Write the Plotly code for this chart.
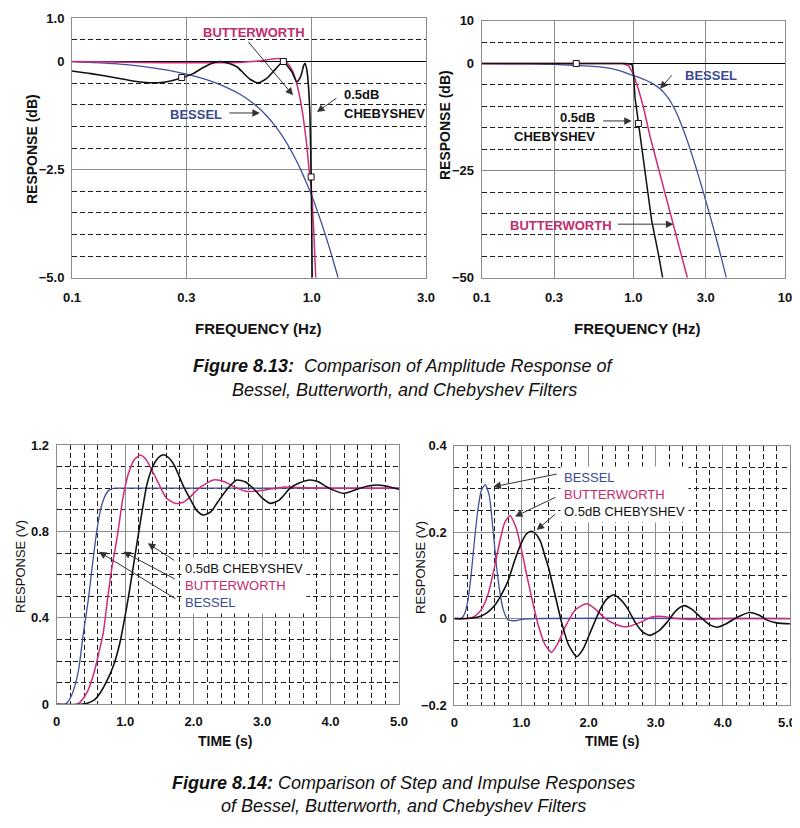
import math
import plotly.graph_objects as go

# The page body has an 8px margin, so the figure is placed and sized to fit inside the window.
OX, OY = 8, 8
W, H = 792, 810
FONT = "Liberation Sans, Arial, sans-serif"
BLUE = "#3f4f9e"
MAGENTA = "#d02a7c"
BLACK = "#111111"
BLUE_TXT = "#3a4a94"
MAG_TXT = "#c22c6e"
GRID = "#8c8c8c"
DASH = "#1e1e1e"

# ---------------- Figure 8.13, left: passband detail (dB vs Hz) ----------------
amp1_bessel_f = [0.1, 0.15, 0.2, 0.25, 0.3, 0.35, 0.4, 0.45, 0.5, 0.55, 0.6, 0.65, 0.7, 0.75,
                 0.8, 0.85, 0.9, 0.95, 1.0, 1.05, 1.1, 1.15, 1.2, 1.25, 1.29]
amp1_bessel_db = [0, -0.05, -0.12, -0.2, -0.29, -0.39, -0.5, -0.62, -0.75, -0.9, -1.07, -1.26, -1.47, -1.7,
                  -1.95, -2.22, -2.5, -2.8, -3.1, -3.42, -3.74, -4.07, -4.4, -4.74, -5.0]

amp1_butter_f = [0.1, 0.2, 0.3, 0.4, 0.5, 0.6, 0.67, 0.72, 0.76, 0.79, 0.82, 0.84, 0.86, 0.88, 0.9,
                 0.92, 0.95, 0.98, 1.0, 1.02, 1.04]
amp1_butter_db = [0, -0.02, -0.03, -0.03, -0.02, 0.01, 0.05, 0.07, 0.06, -0.03, -0.15, -0.27, -0.45, -0.66, -0.93,
                  -1.25, -1.85, -2.6, -3.05, -3.9, -5.0]

amp1_cheby_f = [0.1, 0.12, 0.15, 0.18, 0.21, 0.24, 0.27, 0.29, 0.32, 0.35, 0.38, 0.414, 0.45, 0.487,
                0.52, 0.553, 0.598, 0.649, 0.7, 0.762, 0.8, 0.827, 0.867, 0.89, 0.909, 0.925, 0.938,
                0.955, 0.968, 0.984, 0.995, 1.0, 1.005]
amp1_cheby_db = [-0.22, -0.28, -0.37, -0.45, -0.49, -0.48, -0.42, -0.37, -0.28, -0.15, -0.05, 0.0, -0.04, -0.12,
                 -0.27, -0.41, -0.49, -0.39, -0.2, 0.0, -0.13, -0.24, -0.47, -0.4, -0.27, -0.1, -0.04,
                 -0.2, -0.5, -1.28, -2.67, -3.6, -5.0]
amp1_cheby_mark_f = [0.287, 0.762, 0.995]
amp1_cheby_mark_db = [-0.37, 0.0, -2.67]

# ---------------- Figure 8.13, right: stopband (dB vs Hz) ----------------
amp2_bessel_f = [0.1, 0.2, 0.3, 0.4, 0.5, 0.6, 0.8, 1.0, 1.1, 1.2, 1.3, 1.4, 1.5, 1.6, 1.7, 1.8, 1.9,
                 2.0, 2.2, 2.4, 2.6, 2.8, 3.0, 3.2, 3.5, 3.8, 4.1]
amp2_bessel_db = [0, -0.1, -0.2, -0.4, -0.6, -0.8, -1.6, -2.8, -3.3, -3.85, -4.45, -5.1, -5.9, -6.9, -8.1,
                  -9.5, -11.1, -12.9, -16.7, -20.6, -24.5, -28.3, -32, -35.5, -40.5, -45.3, -50]

amp2_butter_f = [0.1, 0.2, 0.3, 0.5, 0.72, 0.85, 0.93, 1.0, 1.08, 1.164, 1.29, 1.5, 1.7, 1.93, 2.27]
amp2_butter_db = [0, 0, 0, 0, 0.1, 0, -0.5, -2.5, -6, -10.1, -17.1, -25.7, -33.5, -40.5, -50]

amp2_cheby_f = [0.1, 0.2, 0.3, 0.4, 0.5, 0.7, 0.8, 0.9, 0.98, 1.0, 1.026, 1.08, 1.136, 1.225, 1.32, 1.46, 1.56]
amp2_cheby_db = [0, 0, 0, 0, 0.05, 0, 0.05, 0, -0.2, -2, -8, -14, -20.2, -28.8, -36.6, -44.3, -50]
amp2_cheby_mark_f = [0.42, 1.08]
amp2_cheby_mark_db = [0.0, -14.0]

# ---------------- Figure 8.14, left: step response ----------------
step_bessel_t = [0, 0.12, 0.2, 0.27, 0.32, 0.39, 0.46, 0.52, 0.58, 0.64, 0.7, 0.76, 0.85, 0.9, 5.0]
step_bessel_v = [0, 0, 0.03, 0.09, 0.16, 0.33, 0.48, 0.64, 0.79, 0.9, 0.96, 0.99, 1.0, 1.0, 1.0]

step_butter_t = [0, 0.3, 0.37, 0.45, 0.54, 0.61, 0.68, 0.74, 0.8, 0.86, 0.9, 0.97, 1.05, 1.14, 1.22, 1.3,
                 1.46, 1.6, 1.73, 1.85, 1.95, 2.1, 2.29, 2.45, 2.6, 2.78, 3.0, 3.3, 3.6, 4.0, 5.0]
step_butter_v = [0, 0, 0.02, 0.06, 0.14, 0.23, 0.33, 0.48, 0.62, 0.73, 0.81, 0.96, 1.07, 1.135, 1.152, 1.135,
                 1.04, 0.955, 0.93, 0.935, 0.96, 1.005, 1.038, 1.03, 1.005, 0.985, 0.99, 1.005, 1.002, 1.0, 1.0]

step_cheby_t = [0, 0.35, 0.45, 0.55, 0.63, 0.72, 0.83, 0.92, 1.0, 1.06, 1.12, 1.22, 1.32, 1.41, 1.48, 1.56,
                1.64, 1.72, 1.85, 1.95, 2.05, 2.14, 2.25, 2.35, 2.5, 2.63, 2.75, 2.87, 3.0, 3.12, 3.25,
                3.41, 3.55, 3.7, 3.82, 3.94, 4.05, 4.19, 4.3, 4.43, 4.55, 4.67, 4.8, 5.0]
step_cheby_v = [0, 0, 0.005, 0.02, 0.05, 0.1, 0.18, 0.28, 0.41, 0.52, 0.64, 0.84, 1.02, 1.105, 1.14, 1.155,
                1.14, 1.105, 1.01, 0.95, 0.895, 0.876, 0.89, 0.935, 1.0, 1.038, 1.03, 1.0, 0.955, 0.93, 0.945,
                1.0, 1.025, 1.038, 1.03, 1.007, 0.99, 0.976, 0.985, 1.0, 1.01, 1.015, 1.01, 0.995]

# ---------------- Figure 8.14, right: impulse response ----------------
imp_bessel_t = [0, 0.1, 0.15, 0.2, 0.25, 0.3, 0.35, 0.4, 0.46, 0.52, 0.58, 0.63, 0.68, 0.73, 0.8, 0.9,
                1.0, 1.2, 5.0]
imp_bessel_v = [0, 0, 0.01, 0.04, 0.1, 0.18, 0.25, 0.295, 0.31, 0.285, 0.2, 0.12, 0.06, 0.02, -0.003, -0.005,
                -0.002, 0, 0]

imp_butter_t = [0, 0.2, 0.3, 0.4, 0.5, 0.6, 0.68, 0.75, 0.83, 0.92, 1.0, 1.08, 1.15, 1.25, 1.35, 1.45,
                1.55, 1.65, 1.8, 1.97, 2.1, 2.25, 2.4, 2.57, 2.75, 2.95, 3.1, 3.3, 3.5, 4.0, 5.0]
imp_butter_v = [0, 0, 0.005, 0.02, 0.055, 0.12, 0.18, 0.222, 0.238, 0.21, 0.16, 0.1, 0.05, -0.015, -0.06,
                -0.078, -0.055, -0.02, 0.02, 0.034, 0.022, 0.0, -0.013, -0.019, -0.01, 0.004, 0.005, 0.0,
                -0.002, 0, 0]

imp_cheby_t = [0, 0.15, 0.3, 0.4, 0.5, 0.6, 0.7, 0.8, 0.9, 1.0, 1.07, 1.14, 1.2, 1.28, 1.35, 1.4, 1.5,
               1.6, 1.7, 1.82, 1.92, 2.02, 2.17, 2.27, 2.37, 2.47, 2.57, 2.7, 2.8, 2.91, 3.05, 3.16,
               3.3, 3.42, 3.55, 3.66, 3.8, 3.91, 4.05, 4.2, 4.4, 4.55, 4.65, 4.8, 5.0]
imp_cheby_v = [0, 0, 0.002, 0.006, 0.015, 0.03, 0.055, 0.087, 0.135, 0.175, 0.195, 0.202, 0.198, 0.18,
               0.145, 0.12, 0.055, -0.01, -0.06, -0.088, -0.07, -0.034, 0.02, 0.045, 0.055, 0.045, 0.026,
               -0.01, -0.03, -0.039, -0.028, -0.01, 0.018, 0.03, 0.02, 0.004, -0.014, -0.02, -0.012,
               0.002, 0.014, 0.007, -0.003, -0.01, -0.012]

# tick labels
amp1_x_ticks = [0.1, 0.3, 1.0, 3.0]
amp1_x_text = ["0.1", "0.3", "1.0", "3.0"]
amp1_y_ticks = [-5.0, -2.5, 0, 1.0]
amp1_y_text = ["\u22125.0", "\u22122.5", "0", "1.0"]
amp2_x_ticks = [0.1, 0.3, 1.0, 3.0, 10]
amp2_x_text = ["0.1", "0.3", "1.0", "3.0", "10"]
amp2_y_ticks = [-50, -25, 0, 10]
amp2_y_text = ["\u221250", "\u221225", "0", "10"]
time_ticks = [0, 1, 2, 3, 4, 5]
time_text = ["0", "1.0", "2.0", "3.0", "4.0", "5.0"]
# the last label of the right panel sits at the window edge; it is drawn as a right-aligned text below
time_text_right = ["0", "1.0", "2.0", "3.0", "4.0", ""]
last_time_label = "5.0"
step_y_ticks = [0, 0.4, 0.8, 1.2]
step_y_text = ["0", "0.4", "0.8", "1.2"]
imp_y_ticks = [-0.2, 0, 0.2, 0.4]
imp_y_text = ["\u22120.2", "0", "0.2", "0.4"]


def px(x):
    return (x - OX) / W


def py(y):
    return 1 - (y - OY) / H


fig = go.Figure()


def line(x, y, color, width, xa, ya, shape="linear"):
    fig.add_trace(go.Scatter(x=x, y=y, mode="lines", xaxis=xa, yaxis=ya,
                             line=dict(color=color, width=width, shape=shape, smoothing=0.6),
                             hoverinfo="skip", showlegend=False))


def marks(x, y, xa, ya):
    fig.add_trace(go.Scatter(x=x, y=y, mode="markers", xaxis=xa, yaxis=ya,
                             marker=dict(symbol="square", size=6, color="white",
                                         line=dict(color=BLACK, width=1)),
                             hoverinfo="skip", showlegend=False))


line(amp1_bessel_f, amp1_bessel_db, BLUE, 1.3, "x", "y", "spline")
line(amp1_butter_f, amp1_butter_db, MAGENTA, 1.5, "x", "y", "spline")
line(amp1_cheby_f, amp1_cheby_db, BLACK, 1.6, "x", "y", "spline")
marks(amp1_cheby_mark_f, amp1_cheby_mark_db, "x", "y")

line(amp2_bessel_f, amp2_bessel_db, BLUE, 1.3, "x2", "y2", "spline")
line(amp2_butter_f, amp2_butter_db, MAGENTA, 1.5, "x2", "y2")
line(amp2_cheby_f, amp2_cheby_db, BLACK, 1.5, "x2", "y2")
marks(amp2_cheby_mark_f, amp2_cheby_mark_db, "x2", "y2")

line(step_bessel_t, step_bessel_v, BLUE, 1.3, "x3", "y3", "spline")
line(step_butter_t, step_butter_v, MAGENTA, 1.5, "x3", "y3", "spline")
line(step_cheby_t, step_cheby_v, BLACK, 1.6, "x3", "y3", "spline")

line(imp_bessel_t, imp_bessel_v, BLUE, 1.3, "x4", "y4", "spline")
line(imp_butter_t, imp_butter_v, MAGENTA, 1.5, "x4", "y4", "spline")
line(imp_cheby_t, imp_cheby_v, BLACK, 1.6, "x4", "y4", "spline")

TICKFONT = dict(family=FONT, size=13, color="#111", weight="bold")


def axis(domain, anchor, tickvals, ticktext, rng, typ="linear", minor=None, zero=False, standoff=None):
    d = dict(domain=domain, anchor=anchor, type=typ, range=rng, tickmode="array",
             tickvals=tickvals, ticktext=ticktext, showline=True, mirror=True,
             linecolor=GRID, linewidth=1, showgrid=True, gridcolor=GRID, gridwidth=1,
             ticks="", tickfont=TICKFONT, zeroline=zero, zerolinecolor="#000",
             zerolinewidth=1.2, fixedrange=True, automargin=False, ticklabeloverflow="allow")
    if minor is not None:
        d["minor"] = dict(tickmode="linear", dtick=minor[0], tick0=minor[1], showgrid=True,
                          gridcolor=DASH, gridwidth=1, griddash="5px,3px", ticks="")
    if standoff is not None:
        d["ticklabelstandoff"] = standoff
    return d


LOG3 = math.log10(3.0)
fig.update_layout(
    width=W, height=H, margin=dict(l=0, r=0, t=0, b=0, autoexpand=False),
    paper_bgcolor="white", plot_bgcolor="white", showlegend=False,
    xaxis=axis([px(72), px(426)], "y", amp1_x_ticks, amp1_x_text, [-1, LOG3], "log", standoff=8),
    yaxis=axis([py(277.7), py(18.3)], "x", amp1_y_ticks, amp1_y_text, [-5, 1], minor=(0.5, 0), zero=True, standoff=4),
    xaxis2=axis([px(481.7), px(785)], "y2", amp2_x_ticks, amp2_x_text, [-1, 1], "log", standoff=8),
    yaxis2=axis([py(277.7), py(20.7)], "x2", amp2_y_ticks, amp2_y_text, [-50, 10], minor=(5, 0), zero=True, standoff=4),
    xaxis3=axis([px(56.7), px(399)], "y3", time_ticks, time_text, [0, 5], minor=(0.2, 0), standoff=5),
    yaxis3=axis([py(704.3), py(445)], "x3", step_y_ticks, step_y_text, [0, 1.2], minor=(0.1, 0), standoff=4),
    xaxis4=axis([px(454.3), px(790)], "y4", time_ticks, time_text_right, [0, 5], minor=(0.2, 0), standoff=5),
    yaxis4=axis([py(705), py(445.7)], "x4", imp_y_ticks, imp_y_text, [-0.2, 0.4], minor=(0.05, 0), standoff=4),
)

ann = []


def text(s, x, y, color=BLACK, size=13, bold=True, xanchor="center", yanchor="middle", angle=0,
         align="center", bg=None, pad=1):
    d = dict(text=s, x=px(x), y=py(y), xref="paper", yref="paper", showarrow=False,
             xanchor=xanchor, yanchor=yanchor, textangle=angle, align=align, borderpad=pad,
             font=dict(family=FONT, size=size, color=color, weight="bold" if bold else "normal"))
    if bg:
        d["bgcolor"] = bg
    ann.append(d)


def arrow(xa, ya, x, y, ax, ay, log=False):
    ann.append(dict(text="", x=math.log10(x) if log else x, y=y, xref=xa, yref=ya,
                    ax=ax, ay=ay, showarrow=True, arrowhead=2, arrowsize=1.5,
                    arrowwidth=1, arrowcolor="#333", standoff=0))


# last tick label of the impulse panel, kept inside the window
text(last_time_label, 797, 722, color="#111", size=13, xanchor="right", pad=0)

# axis titles
text("RESPONSE (dB)", 32, 149, size=14, angle=-90)
text("RESPONSE (dB)", 445, 125, size=14, angle=-90)
text("FREQUENCY (Hz)", 258, 328, size=15)
text("FREQUENCY (Hz)", 637, 328, size=15)
text("RESPONSE (V)", 20, 567, size=13, bold=False, angle=-90)
text("RESPONSE (V)", 420, 568, size=13, bold=False, angle=-90)
text("TIME (s)", 225, 741, size=14)
text("TIME (s)", 612, 741, size=14)

# curve labels, Figure 8.13
text("BUTTERWORTH", 254, 32, color=MAG_TXT)
text("BESSEL", 196, 115, color=BLUE_TXT)
text("0.5dB", 342, 95, xanchor="left")
text("CHEBYSHEV", 342, 113, xanchor="left")
text("BESSEL", 711, 76, color=BLUE_TXT)
text("0.5dB", 597, 118, xanchor="right")
text("CHEBYSHEV", 597, 137, xanchor="right")
text("BUTTERWORTH", 561, 225, color=MAG_TXT)

arrow("x", "y", 0.836, -0.78, -46, -55, log=True)
arrow("x", "y", 0.608, -1.19, -32, 0, log=True)
arrow("x", "y", 1.052, -1.17, 21, -15, log=True)
arrow("x2", "y2", 1.5, -5.9, 13, -15, log=True)
arrow("x2", "y2", 0.976, -13.4, -30, 0, log=True)
arrow("x2", "y2", 1.836, -37.5, -57, 0, log=True)

# curve labels, Figure 8.14
text("0.5dB CHEBYSHEV<br><span style='color:%s'>BUTTERWORTH</span><br><span style='color:%s'>BESSEL</span>"
     % (MAG_TXT, BLUE_TXT), 181, 585, bold=False, xanchor="left", align="left", bg="white", pad=3)
text("<span style='color:%s'>BESSEL</span><br><span style='color:%s'>BUTTERWORTH</span><br>O.5dB CHEBYSHEV"
     % (BLUE_TXT, MAG_TXT), 560, 494, bold=False, xanchor="left", align="left", bg="white", pad=3)

arrow("x3", "y3", 1.33, 0.745, 28, 18)
arrow("x3", "y3", 0.973, 0.706, 53, 28)
arrow("x3", "y3", 0.618, 0.706, 78, 48)
arrow("x4", "y4", 0.581, 0.305, 65, -13)
arrow("x4", "y4", 0.904, 0.236, 42, -20)
arrow("x4", "y4", 1.227, 0.205, 20, -17)

# captions
text("<b><i>Figure 8.13:</i></b><i>\u00a0 Comparison of Amplitude Response of</i>", 403, 366, size=18, bold=False)
text("<i>Bessel, Butterworth, and Chebyshev Filters</i>", 404, 390, size=18, bold=False)
text("<b><i>Figure 8.14:</i></b><i> Comparison of Step and Impulse Responses</i>", 403, 783, size=18, bold=False)
text("<i>of Bessel, Butterworth, and Chebyshev Filters</i>", 403, 806, size=18, bold=False)

fig.update_layout(annotations=ann)
fig.write_html("out.html")
